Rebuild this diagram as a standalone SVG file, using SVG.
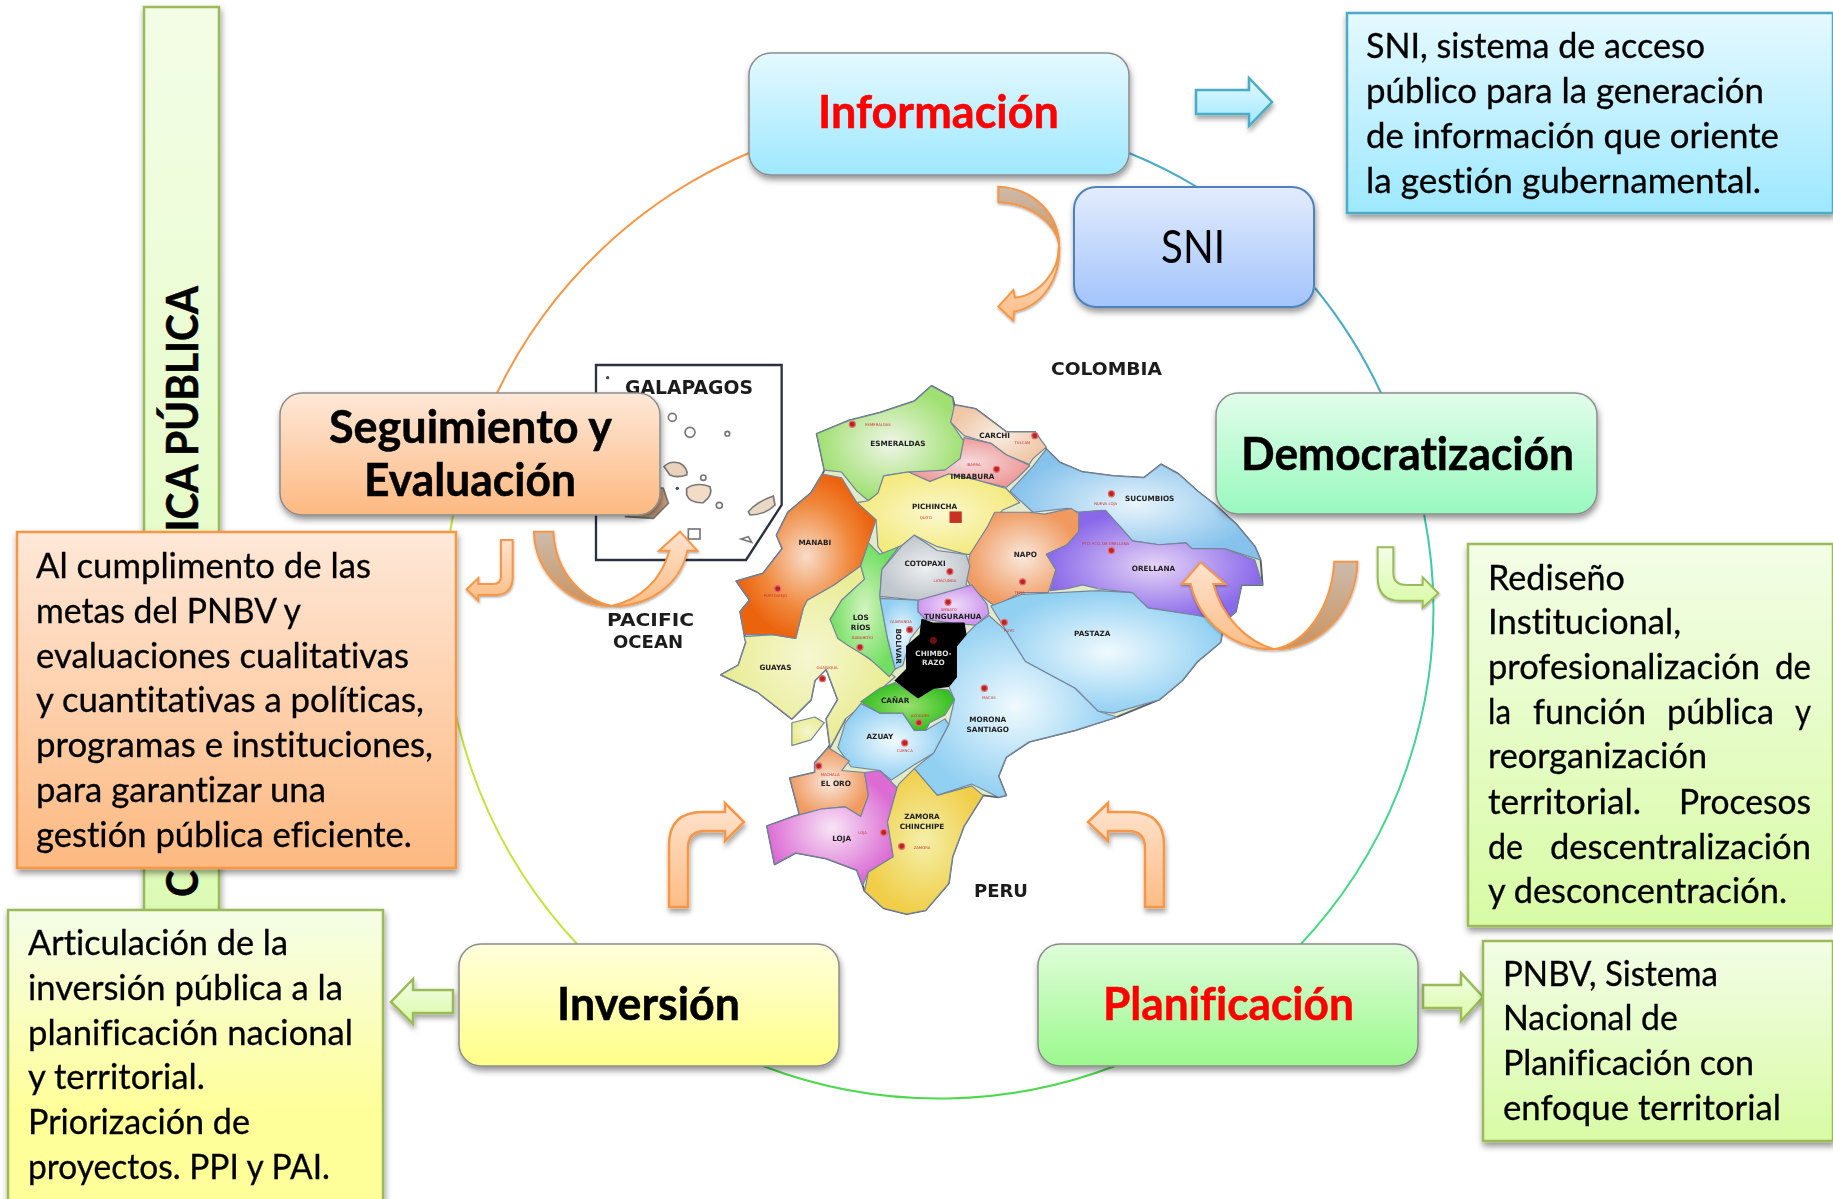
<svg xmlns="http://www.w3.org/2000/svg" width="1833" height="1199" viewBox="0 0 1833 1199">
<defs>
<linearGradient id="gBlue" x1="0" y1="0" x2="0" y2="1"><stop offset="0" stop-color="#E5F9FF"/><stop offset="1" stop-color="#9EE8FF"/></linearGradient>
<linearGradient id="gSni" x1="0" y1="0" x2="0" y2="1"><stop offset="0" stop-color="#E3ECFD"/><stop offset="1" stop-color="#A3C4FB"/></linearGradient>
<linearGradient id="gMint" x1="0" y1="0" x2="0" y2="1"><stop offset="0" stop-color="#E2FDEB"/><stop offset="1" stop-color="#98F9BE"/></linearGradient>
<linearGradient id="gOrange" x1="0" y1="0" x2="0" y2="1"><stop offset="0" stop-color="#FEE8D8"/><stop offset="1" stop-color="#FDB981"/></linearGradient>
<linearGradient id="gYellow" x1="0" y1="0" x2="0" y2="1"><stop offset="0" stop-color="#FFFFDC"/><stop offset="1" stop-color="#FFFF88"/></linearGradient>
<linearGradient id="gGreen" x1="0" y1="0" x2="0" y2="1"><stop offset="0" stop-color="#DFFDD9"/><stop offset="1" stop-color="#9BF98D"/></linearGradient>
<linearGradient id="gLime" x1="0" y1="0" x2="0" y2="1"><stop offset="0" stop-color="#F3FDE6"/><stop offset="1" stop-color="#D8FBA5"/></linearGradient>
<linearGradient id="gLimeY" x1="0" y1="0" x2="0" y2="1"><stop offset="0" stop-color="#F4FDE8"/><stop offset=".65" stop-color="#FFFF99"/><stop offset="1" stop-color="#FFFF99"/></linearGradient>
<linearGradient id="gBar" x1="0" y1="0" x2="0" y2="1"><stop offset="0" stop-color="#F3FDE6"/><stop offset="1" stop-color="#DDFBB5"/></linearGradient>
<linearGradient id="gBrown" x1="0" y1="0" x2="0" y2="1"><stop offset="0" stop-color="#CDBBAC"/><stop offset="1" stop-color="#C9935F"/></linearGradient>
<linearGradient id="gPeach" x1="0" y1="0" x2="0" y2="1"><stop offset="0" stop-color="#FEE3CF"/><stop offset="1" stop-color="#FDBD85"/></linearGradient>
<linearGradient id="gArcMint" gradientUnits="userSpaceOnUse" x1="0" y1="514" x2="0" y2="945"><stop offset="0" stop-color="#3CC8B0"/><stop offset="1" stop-color="#45DC80"/></linearGradient>
<radialGradient id="mGreen"><stop offset="0" stop-color="#F0F5E8"/><stop offset="1" stop-color="#9FE070"/></radialGradient>
<radialGradient id="mPeach"><stop offset="0" stop-color="#F8EEE4"/><stop offset="1" stop-color="#F0C8A8"/></radialGradient>
<radialGradient id="mPink"><stop offset="0" stop-color="#F6DCDC"/><stop offset="1" stop-color="#EF9A9A"/></radialGradient>
<radialGradient id="mYellow"><stop offset="0" stop-color="#FBF8D0"/><stop offset="1" stop-color="#F4EA80"/></radialGradient>
<radialGradient id="mBlue"><stop offset="0" stop-color="#E8F4FB"/><stop offset="1" stop-color="#86C2EC"/></radialGradient>
<radialGradient id="mSky"><stop offset="0" stop-color="#F0FAFE"/><stop offset="1" stop-color="#92D0F2"/></radialGradient>
<radialGradient id="mSalmon"><stop offset="0" stop-color="#F9E8DC"/><stop offset="1" stop-color="#F09A60"/></radialGradient>
<radialGradient id="mPurple"><stop offset="0" stop-color="#E6D4F6"/><stop offset="1" stop-color="#8A68EA"/></radialGradient>
<radialGradient id="mOrange"><stop offset="0" stop-color="#F8DCC8"/><stop offset=".65" stop-color="#F0873A"/><stop offset="1" stop-color="#EC6410"/></radialGradient>
<radialGradient id="mCream"><stop offset="0" stop-color="#F6F7D2"/><stop offset="1" stop-color="#E9EC92"/></radialGradient>
<radialGradient id="mLeaf"><stop offset="0" stop-color="#D4F4C0"/><stop offset="1" stop-color="#70DE60"/></radialGradient>
<radialGradient id="mGrey"><stop offset="0" stop-color="#EEF0F2"/><stop offset="1" stop-color="#BFC6CC"/></radialGradient>
<radialGradient id="mViolet"><stop offset="0" stop-color="#EEDDF8"/><stop offset="1" stop-color="#D098EE"/></radialGradient>
<radialGradient id="mCanar"><stop offset="0" stop-color="#9CE070"/><stop offset="1" stop-color="#34C020"/></radialGradient>
<radialGradient id="mLoja"><stop offset="0" stop-color="#F8E4F6"/><stop offset="1" stop-color="#DC6CD4"/></radialGradient>
<radialGradient id="mGold"><stop offset="0" stop-color="#F4EFA8"/><stop offset="1" stop-color="#F0CE48"/></radialGradient>
<filter id="sh" x="-15%" y="-15%" width="130%" height="135%"><feDropShadow dx="1" dy="4" stdDeviation="3" flood-color="#000" flood-opacity=".42"/></filter>
<filter id="shA" x="-30%" y="-30%" width="160%" height="170%"><feDropShadow dx="1" dy="4" stdDeviation="2.5" flood-color="#000" flood-opacity=".35"/></filter>
<filter id="soft" x="-2%" y="-2%" width="104%" height="104%"><feGaussianBlur stdDeviation=".7"/></filter>
<style>
text{font-family:"Lato","Carlito","Noto Sans",sans-serif;fill:#000;font-variant-ligatures:none}
.d{font-size:34px;font-weight:400;stroke:#000;stroke-width:.3}
.n{font-size:45px;font-weight:700;stroke:#000;stroke-width:.5}
.n.r{fill:#F00;stroke:#F00}
.box{stroke-width:2.5}
.node{stroke:#8C8C8C;stroke-width:1.5}
.arc{fill:none;stroke-width:2}
.ao{stroke:#F79646;stroke-width:2.5;stroke-linejoin:miter}
.ag{stroke:#9BBB59;stroke-width:2.5;fill:url(#gLime)}
.m polygon{stroke:#74849A;stroke-width:3;stroke-linejoin:round}
.m polygon.sil{stroke:#55606F;stroke-width:5;fill:#E3EAC8}
.m text{font-family:"DejaVu Sans",sans-serif;font-weight:700;font-size:19px;text-anchor:middle;fill:#222}
.m text.c{font-size:10px;font-weight:400;fill:#C33}
.m circle{fill:#C02020;stroke:#E07070;stroke-width:3}
.lab{font-family:"DejaVu Sans",sans-serif;font-weight:700;fill:#1A1A1A}
</style>
</defs>
<rect width="1833" height="1199" fill="#FFFFFF"/>

<g id="barra-politica">
<rect x="144" y="7" width="75" height="905" fill="url(#gBar)" stroke="#9BBB59" stroke-width="2.5" filter="url(#sh)"/>
<text transform="translate(198,897) rotate(-90)" font-size="43" font-weight="700" stroke="#000" stroke-width=".5" textLength="611" lengthAdjust="spacingAndGlyphs">CICLO DE LA POLÍTICA PÚBLICA</text>
</g>

<g id="mapa" filter="url(#soft)">
<g class="m" transform="translate(700,340) scale(.3827)">
<polygon class="sil" points="305,245 390,210 470,190 560,160 605,120 660,150 665,170 720,180 760,210 800,240 875,240 905,285 940,320 1000,345 1080,355 1160,360 1205,325 1250,350 1300,395 1345,430 1400,480 1450,540 1465,575 1470,640 1415,640 1400,710 1370,735 1360,790 1300,840 1260,890 1200,940 1090,985 980,1020 860,1050 800,1090 780,1140 800,1190 780,1195 740,1190 690,1270 660,1350 650,1420 590,1490 540,1500 480,1485 430,1440 425,1425 410,1385 330,1355 250,1340 195,1370 175,1270 245,1245 260,1240 235,1145 300,1130 300,1105 335,1065 380,990 340,1065 330,990 360,940 330,860 300,890 290,940 240,990 150,920 55,875 100,850 120,790 105,710 130,680 95,630 165,610 215,545 200,510 230,450 290,400 320,350 325,340"/>
<polygon fill="url(#mGreen)" points="305,245 390,210 470,190 560,160 605,120 660,150 665,190 655,215 690,265 680,310 640,345 540,345 480,355 465,400 440,420 410,395 370,345 325,340"/>
<polygon fill="url(#mPeach)" points="665,170 720,180 760,210 800,240 875,240 905,280 870,310 860,325 800,300 760,270 690,250 655,215"/>
<polygon fill="url(#mPink)" points="690,255 760,270 800,300 862,328 830,360 800,385 720,365 650,350 600,370 545,345 640,340 680,310"/>
<polygon fill="url(#mYellow)" points="480,355 545,345 600,370 650,350 720,365 800,388 835,425 790,445 750,490 710,560 695,560 620,540 560,510 530,535 480,560 465,540 460,470 410,425 440,420 465,400"/>
<polygon fill="url(#mBlue)" points="905,285 940,320 1000,345 1080,355 1160,360 1205,325 1250,350 1300,395 1345,430 1400,480 1450,540 1465,575 1370,545 1285,545 1270,530 1200,535 1130,525 1100,490 1050,445 990,450 960,440 870,450 810,395 870,330"/>
<polygon fill="url(#mSalmon)" points="770,450 860,450 900,455 970,440 990,455 990,500 960,535 905,560 930,600 910,660 840,660 770,695 710,650 695,620 705,560 750,490"/>
<polygon fill="url(#mPurple)" points="990,450 1060,445 1100,490 1130,525 1200,535 1270,530 1285,545 1370,545 1450,575 1470,640 1415,640 1400,710 1370,735 1300,720 1170,700 1130,660 1040,650 1000,640 960,650 915,655 930,600 905,560 960,535 990,500"/>
<polygon fill="url(#mCream)" points="115,775 190,770 250,780 270,700 280,680 350,640 420,590 430,625 370,680 340,730 380,790 480,860 510,880 430,950 380,990 340,1065 330,990 360,940 330,860 300,890 290,940 240,990 150,920 55,875 100,850 120,790"/>
<polygon fill="url(#mOrange)" points="320,350 370,360 410,425 460,470 440,530 420,590 350,640 280,680 270,700 250,780 190,770 115,770 105,710 130,680 95,630 165,610 215,545 200,510 230,450 290,400"/>
<polygon fill="url(#mCream)" points="240,1000 300,985 325,1000 290,1045 240,1060"/>
<polygon fill="url(#mLeaf)" points="440,530 470,560 520,540 475,600 470,670 490,780 510,860 495,880 440,830 390,800 360,780 340,730 370,680 430,625 420,590"/>
<polygon fill="url(#mGrey)" points="530,535 560,510 620,550 695,560 705,590 695,640 710,645 640,665 570,680 470,670 475,600"/>
<polygon fill="url(#mSky)" points="470,675 570,680 570,710 590,730 550,780 530,850 510,860 490,780"/>
<polygon fill="url(#mViolet)" points="570,680 640,660 710,640 750,690 755,715 720,745 660,740 590,730 570,710"/>
<polygon fill="url(#mSky)" points="760,695 840,665 1040,655 1130,660 1170,700 1300,720 1370,735 1360,790 1300,840 1260,890 1200,940 1080,975 1040,970 980,910 850,840 800,760"/>
<polygon fill="url(#mSky)" points="755,720 800,760 850,840 980,910 1040,970 1090,985 980,1020 860,1050 800,1090 780,1140 800,1190 780,1195 710,1160 620,1190 560,1120 610,1080 650,1005 665,940 650,905 670,880 670,800 695,770 720,745"/>
<polygon fill="url(#mSky)" points="420,950 470,975 530,975 560,1020 590,1020 640,990 650,1005 610,1080 560,1110 500,1150 470,1125 395,1115 360,1065 380,1000"/>
<polygon fill="url(#mCanar)" points="510,895 570,935 610,910 650,915 665,940 640,980 600,1000 590,1020 560,1020 530,975 470,975 420,945 470,910"/>
<polygon fill="#000" style="stroke:#000" points="580,730 610,740 690,740 695,770 670,800 670,880 650,905 610,910 570,935 510,890 540,860 540,800 575,770"/>
<polygon fill="url(#mSalmon)" points="335,1065 390,1100 370,1125 430,1130 440,1190 420,1245 380,1220 320,1225 260,1240 235,1145 300,1130 300,1105"/>
<polygon fill="url(#mLoja)" points="430,1130 470,1125 515,1170 490,1260 505,1350 440,1390 425,1425 410,1385 330,1355 250,1340 195,1370 175,1270 245,1245 320,1225 380,1220 420,1245 440,1190"/>
<polygon fill="url(#mGold)" points="560,1120 620,1190 710,1165 740,1190 690,1270 660,1350 650,1420 590,1490 540,1500 480,1485 430,1440 440,1390 505,1350 490,1260 515,1170 520,1160"/>
<circle cx="398" cy="220" r="8"/><circle cx="875" cy="250" r="8"/><circle cx="775" cy="338" r="8"/>
<rect x="652" y="448" width="32" height="30" fill="#C83020"/>
<circle cx="1075" cy="402" r="8"/><circle cx="843" cy="632" r="8"/><circle cx="1075" cy="550" r="8"/><circle cx="203" cy="650" r="8"/><circle cx="653" cy="605" r="8"/><circle cx="648" cy="685" r="8"/><circle cx="548" cy="757" r="8"/><circle cx="610" cy="785" r="9" style="fill:#701010;stroke:none"/><circle cx="418" cy="803" r="8"/><circle cx="795" cy="738" r="8"/><circle cx="320" cy="885" r="8"/><circle cx="743" cy="910" r="8"/><circle cx="572" cy="1000" r="8"/><circle cx="535" cy="1053" r="8"/><circle cx="310" cy="1113" r="8"/><circle cx="480" cy="1287" r="8"/><circle cx="527" cy="1323" r="8"/>
<text x="517" y="277">ESMERALDAS</text><text x="770" y="256">CARCHI</text><text x="712" y="364">IMBABURA</text><text x="613" y="441">PICHINCHA</text><text x="1175" y="421">SUCUMBIOS</text><text x="850" y="566">NAPO</text><text x="1185" y="603">ORELLANA</text><text x="300" y="536">MANABI</text><text x="588" y="591">COTOPAXI</text><text x="420" y="732">LOS</text><text x="420" y="757">RÍOS</text><text x="660" y="728">TUNGURAHUA</text><text transform="translate(512,800) rotate(90)">BOLIVAR</text><text x="610" y="827" style="fill:#DDD">CHIMBO-</text><text x="610" y="849" style="fill:#DDD">RAZO</text><text x="1025" y="773">PASTAZA</text><text x="197" y="863">GUAYAS</text><text x="510" y="948">CAÑAR</text><text x="470" y="1042">AZUAY</text><text x="752" y="998">MORONA</text><text x="752" y="1023">SANTIAGO</text><text x="355" y="1166">EL ORO</text><text x="370" y="1308">LOJA</text><text x="580" y="1251">ZAMORA</text><text x="580" y="1278">CHINCHIPE</text>
<text class="c" x="465" y="224">ESMERALDAS</text><text class="c" x="842" y="272">TULCAN</text><text class="c" x="715" y="329">IBARRA</text><text class="c" x="590" y="467">QUITO</text><text class="c" x="1060" y="432">NUEVA LOJA</text><text class="c" x="835" y="664">TENA</text><text class="c" x="1060" y="535">PTO. FCO. DE ORELLANA</text><text class="c" x="197" y="672">PORTOVIEJO</text><text class="c" x="640" y="632">LATACUNGA</text><text class="c" x="650" y="707">AMBATO</text><text class="c" x="525" y="739">GUARANDA</text><text class="c" x="425" y="781">BABAHOYO</text><text class="c" x="808" y="764">PUYO</text><text class="c" x="333" y="859">GUAYAQUIL</text><text class="c" x="755" y="937">MACAS</text><text class="c" x="575" y="984">AZOGUES</text><text class="c" x="535" y="1077">CUENCA</text><text class="c" x="340" y="1139">MACHALA</text><text class="c" x="425" y="1291">LOJA</text><text class="c" x="580" y="1329">ZAMORA</text>
</g>
<g transform="translate(440,340) scale(.33333)">
<path d="M468,75 L1025,75 L1025,495 L918,660 L468,660 Z" fill="#FFF" stroke="#2C3240" stroke-width="7"/>
<g stroke="#777" stroke-width="5">
<path d="M555,530 L640,535 L685,490 L670,445 L640,440 L620,500 Z" fill="#C89A78"/>
<path d="M672,380 Q690,360 720,370 Q745,385 740,405 Q710,415 690,405 Z" fill="#EAD2BC"/>
<path d="M740,445 Q770,425 810,440 Q820,465 790,488 Q750,490 740,465 Z" fill="#F3DCC6"/>
<path d="M925,515 Q950,485 1000,468 L1005,495 Q975,525 930,525 Z" fill="#E8D8C4"/>
<circle cx="697" cy="232" r="12" fill="#FFF"/><circle cx="750" cy="277" r="15" fill="#FFF"/><circle cx="862" cy="281" r="7" fill="#FFF"/><circle cx="790" cy="413" r="8" fill="#FFF"/><circle cx="838" cy="496" r="9" fill="#FFF"/>
<rect x="745" y="567" width="35" height="30" fill="#FFF"/><path d="M903,597 L925,590 L935,607 Z" fill="#FFF"/>
</g>
<circle cx="503" cy="113" r="5" fill="#445"/><circle cx="712" cy="445" r="5" fill="#445"/>
</g>
<text class="lab" x="625" y="394" font-size="19" textLength="128" lengthAdjust="spacingAndGlyphs">GALAPAGOS</text>
<text class="lab" x="607" y="626" font-size="18" textLength="87" lengthAdjust="spacingAndGlyphs">PACIFIC</text>
<text class="lab" x="613" y="648" font-size="18" textLength="70" lengthAdjust="spacingAndGlyphs">OCEAN</text>
<text class="lab" x="1051" y="375" font-size="18" textLength="111" lengthAdjust="spacingAndGlyphs">COLOMBIA</text>
<text class="lab" x="974" y="897" font-size="18" textLength="54" lengthAdjust="spacingAndGlyphs">PERU</text>
</g>

<g id="conectores">
<path class="arc" stroke="#F79646" d="M749,153 A492,492 0 0 0 497,393"/>
<path class="arc" stroke="#4BACC6" d="M1129,153 A492,492 0 0 1 1197,187"/>
<path class="arc" stroke="#4BACC6" d="M1315,288 A492,492 0 0 1 1381,393"/>
<path class="arc" stroke="url(#gArcMint)" d="M1424,514 A490,490 0 0 1 1300,945"/>
<path class="arc" stroke="#4FD84F" d="M1115,1066 A492,492 0 0 1 763,1066"/>
<path class="arc" stroke="#C4E33C" d="M578,945 A492,492 0 0 1 453,515"/>

<g filter="url(#shA)">
<path fill="url(#gBlue)" stroke="#4BACC6" stroke-width="2.5" d="M1196,90 L1249,90 L1249,78 L1272,102 L1249,126 L1249,114 L1196,114 Z"/>
</g>
<g filter="url(#shA)" transform="translate(960,0) scale(.33333)">
<path class="ao" style="stroke-width:6" fill="url(#gBrown)" d="M115,560 C220,565 298,640 298,745 C296,680 220,610 115,607 Z"/>
<path class="ao" style="stroke-width:6" fill="url(#gPeach)" d="M296,745 C298,810 240,885 165,893 L160,870 L115,920 L160,962 L162,935 C240,920 298,850 298,745 Z"/>
</g>
<g filter="url(#shA)" transform="translate(440,340) scale(.33333)">
<path class="ao" style="stroke-width:6" fill="url(#gPeach)" d="M515,798 C620,800 720,740 742,632 L772,632 L720,575 L657,632 L688,632 C665,720 600,780 515,798 Z"/>
<path class="ao" style="stroke-width:6" fill="url(#gBrown)" d="M282,575 C285,700 390,800 515,798 C430,780 345,700 340,575 Z"/>
<path class="ao" style="stroke-width:6" fill="url(#gPeach)" d="M183,600 L218,600 L218,710 Q218,765 165,765 L115,765 L115,782 L80,748 L115,714 L115,732 L160,732 Q183,732 183,708 Z"/>
</g>
<g filter="url(#shA)" transform="translate(1150,380) scale(.33333)">
<path class="ao" style="stroke-width:6" fill="url(#gPeach)" d="M372,808 C260,810 150,735 122,612 L95,612 L152,547 L226,612 L190,612 C215,710 290,785 372,808 Z"/>
<path class="ao" style="stroke-width:6" fill="url(#gBrown)" d="M622,545 C620,690 510,810 372,808 C470,790 545,680 553,545 Z"/>
<path class="ag" style="stroke-width:6" d="M683,502 L730,502 L730,580 Q730,615 770,615 L818,615 L818,592 L865,640 L818,683 L818,662 L750,662 Q683,662 683,590 Z"/>
</g>
<path filter="url(#shA)" class="ao" fill="url(#gPeach)" d="M669,907 L669,845 Q669,812 703,812 L725,812 L725,803 L744,822 L725,841 L725,831 L705,831 Q688,831 688,848 L688,907 Z"/>
<path filter="url(#shA)" class="ao" fill="url(#gPeach)" d="M1164,907 L1164,845 Q1164,812 1130,812 L1108,812 L1108,803 L1088,822 L1108,841 L1108,831 L1128,831 Q1145,831 1145,848 L1145,907 Z"/>
<path filter="url(#shA)" class="ag" d="M453,990 L413,990 L413,979 L391,1002 L413,1024 L413,1013 L453,1013 Z"/>
<path filter="url(#shA)" class="ag" d="M1423,985 L1461,985 L1461,973 L1483,997 L1461,1021 L1461,1008 L1423,1008 Z"/>
</g>

<g id="informacion"><rect class="node" x="749" y="53" width="380" height="122" rx="22" fill="url(#gBlue)" filter="url(#sh)"/><text class="n r" x="818" y="128" textLength="241" lengthAdjust="spacingAndGlyphs">Información</text></g>
<g id="sni"><rect x="1074" y="187" width="240" height="120" rx="22" fill="url(#gSni)" stroke="#4F81BD" stroke-width="2" filter="url(#sh)"/><text x="1161" y="263" font-size="46" textLength="64" lengthAdjust="spacingAndGlyphs">SNI</text></g>
<g id="democratizacion"><rect class="node" x="1216" y="393" width="381" height="121" rx="22" fill="url(#gMint)" filter="url(#sh)"/><text class="n" x="1241" y="470" textLength="333" lengthAdjust="spacingAndGlyphs">Democratización</text></g>
<g id="seguimiento"><rect class="node" x="280" y="393" width="380" height="122" rx="22" fill="url(#gOrange)" filter="url(#sh)"/><text class="n" x="329" y="443" textLength="283" lengthAdjust="spacingAndGlyphs">Seguimiento y</text><text class="n" x="364" y="496" textLength="212" lengthAdjust="spacingAndGlyphs">Evaluación</text></g>
<g id="inversion"><rect class="node" x="459" y="944" width="380" height="122" rx="22" fill="url(#gYellow)" filter="url(#sh)"/><text class="n" x="557" y="1020" textLength="183" lengthAdjust="spacingAndGlyphs">Inversión</text></g>
<g id="planificacion"><rect class="node" x="1038" y="944" width="380" height="122" rx="22" fill="url(#gGreen)" filter="url(#sh)"/><text class="n r" x="1103" y="1020" textLength="251" lengthAdjust="spacingAndGlyphs">Planificación</text></g>

<g id="desc-sni"><rect class="box" x="1347" y="13" width="486" height="200" fill="url(#gBlue)" stroke="#4BACC6" filter="url(#sh)"/>
<g transform="translate(-1,1)"><text class="d" x="1367" y="57" textLength="339" lengthAdjust="spacingAndGlyphs">SNI, sistema de acceso</text>
<text class="d" x="1367" y="102" textLength="398" lengthAdjust="spacingAndGlyphs">público para la generación</text>
<text class="d" x="1367" y="147" textLength="413" lengthAdjust="spacingAndGlyphs">de información que oriente</text>
<text class="d" x="1367" y="192" textLength="395" lengthAdjust="spacingAndGlyphs">la gestión gubernamental.</text></g></g>

<g id="desc-democratizacion"><rect class="box" x="1468" y="544" width="365" height="382" fill="url(#gLime)" stroke="#9BBB59" filter="url(#sh)"/>
<g transform="translate(-1,1)"><text class="d" x="1489" y="589" textLength="137" lengthAdjust="spacingAndGlyphs">Rediseño</text>
<text class="d" x="1489" y="633" textLength="193" lengthAdjust="spacingAndGlyphs">Institucional,</text>
<text class="d" x="1489" y="678" textLength="272" lengthAdjust="spacingAndGlyphs">profesionalización</text><text class="d" x="1776" y="678" textLength="36" lengthAdjust="spacingAndGlyphs">de</text>
<text class="d" x="1489" y="723" textLength="23" lengthAdjust="spacingAndGlyphs">la</text><text class="d" x="1534" y="723" textLength="113" lengthAdjust="spacingAndGlyphs">función</text><text class="d" x="1668" y="723" textLength="107" lengthAdjust="spacingAndGlyphs">pública</text><text class="d" x="1796" y="723" textLength="16" lengthAdjust="spacingAndGlyphs">y</text>
<text class="d" x="1489" y="767" textLength="219" lengthAdjust="spacingAndGlyphs">reorganización</text>
<text class="d" x="1489" y="813" textLength="153" lengthAdjust="spacingAndGlyphs">territorial.</text><text class="d" x="1680" y="813" textLength="132" lengthAdjust="spacingAndGlyphs">Procesos</text>
<text class="d" x="1489" y="858" textLength="35" lengthAdjust="spacingAndGlyphs">de</text><text class="d" x="1551" y="858" textLength="261" lengthAdjust="spacingAndGlyphs">descentralización</text>
<text class="d" x="1489" y="902" textLength="299" lengthAdjust="spacingAndGlyphs">y desconcentración.</text></g></g>

<g id="desc-planificacion"><rect class="box" x="1483" y="941" width="350" height="200" fill="url(#gLime)" stroke="#9BBB59" filter="url(#sh)"/>
<g transform="translate(-1,1)"><text class="d" x="1504" y="985" textLength="215" lengthAdjust="spacingAndGlyphs">PNBV, Sistema</text>
<text class="d" x="1504" y="1029" textLength="175" lengthAdjust="spacingAndGlyphs">Nacional de</text>
<text class="d" x="1504" y="1074" textLength="251" lengthAdjust="spacingAndGlyphs">Planificación con</text>
<text class="d" x="1504" y="1119" textLength="278" lengthAdjust="spacingAndGlyphs">enfoque territorial</text></g></g>

<g id="desc-seguimiento"><rect class="box" x="17" y="532" width="439" height="336" fill="url(#gOrange)" stroke="#F79646" filter="url(#sh)"/>
<g transform="translate(-1,1)"><text class="d" x="37" y="577" textLength="335" lengthAdjust="spacingAndGlyphs">Al cumplimento de las</text>
<text class="d" x="37" y="622" textLength="265" lengthAdjust="spacingAndGlyphs">metas del PNBV y</text>
<text class="d" x="37" y="667" textLength="373" lengthAdjust="spacingAndGlyphs">evaluaciones cualitativas</text>
<text class="d" x="37" y="711" textLength="388" lengthAdjust="spacingAndGlyphs">y cuantitativas a políticas,</text>
<text class="d" x="37" y="756" textLength="397" lengthAdjust="spacingAndGlyphs">programas e instituciones,</text>
<text class="d" x="37" y="801" textLength="290" lengthAdjust="spacingAndGlyphs">para garantizar una</text>
<text class="d" x="37" y="846" textLength="376" lengthAdjust="spacingAndGlyphs">gestión pública eficiente.</text></g></g>

<g id="desc-inversion"><rect class="box" x="8" y="910" width="375" height="310" fill="url(#gLimeY)" stroke="#9BBB59" filter="url(#sh)"/>
<g transform="translate(-1,1)"><text class="d" x="29" y="954" textLength="260" lengthAdjust="spacingAndGlyphs">Articulación de la</text>
<text class="d" x="29" y="999" textLength="315" lengthAdjust="spacingAndGlyphs">inversión pública a la</text>
<text class="d" x="29" y="1044" textLength="325" lengthAdjust="spacingAndGlyphs">planificación nacional</text>
<text class="d" x="29" y="1088" textLength="177" lengthAdjust="spacingAndGlyphs">y territorial.</text>
<text class="d" x="29" y="1133" textLength="222" lengthAdjust="spacingAndGlyphs">Priorización de</text>
<text class="d" x="29" y="1178" textLength="302" lengthAdjust="spacingAndGlyphs">proyectos. PPI y PAI.</text></g></g>
</svg>
